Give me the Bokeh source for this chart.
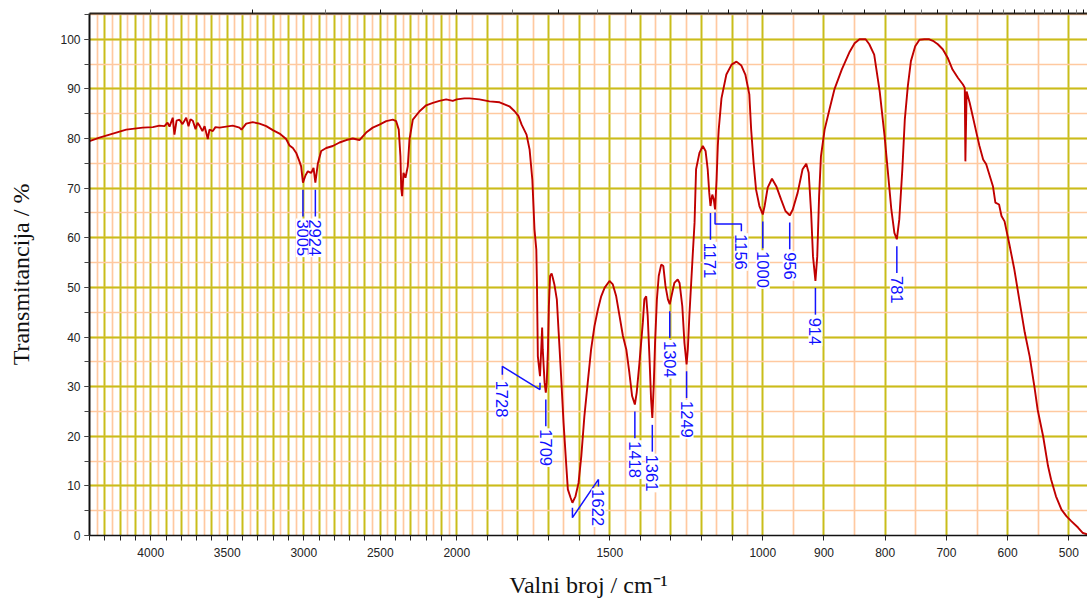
import math
from bokeh.plotting import figure
from bokeh.models import Range1d, FixedTicker, SingleIntervalTicker, LinearAxis, ColumnDataSource, Grid
from bokeh.embed import file_html
from bokeh.resources import INLINE
from bokeh.core.properties import value

# ---------------- data ----------------
wavenumber = [
    4400, 4335, 4269, 4160, 4052, 3986, 3943, 3910, 3890, 3877, 3856, 3845, 3831, 3812, 3792,
    3768, 3753, 3740, 3725, 3707, 3694, 3681, 3662, 3648, 3635, 3627, 3616, 3594, 3577, 3550,
    3507, 3464, 3420, 3407, 3376, 3333, 3289, 3245, 3202, 3158, 3115, 3093, 3071, 3049, 3028,
    3017, 3005, 2988, 2973, 2962, 2951, 2936, 2924, 2908, 2886, 2853, 2810, 2766, 2722, 2679,
    2636, 2592, 2549, 2505, 2461, 2418, 2396, 2379, 2368, 2363, 2357, 2348, 2335, 2320, 2309,
    2287, 2243, 2200, 2156, 2113, 2069, 2026, 2000, 1975, 1958, 1926, 1893, 1860, 1844, 1828,
    1811, 1798, 1788, 1772, 1762, 1753, 1746, 1740, 1738, 1735, 1728, 1724, 1721, 1719, 1713,
    1709, 1706, 1702, 1699, 1695, 1690, 1686, 1681, 1673, 1667, 1659, 1651, 1642, 1637, 1628,
    1622, 1612, 1602, 1593, 1583, 1572, 1561, 1550, 1539, 1528, 1517, 1501, 1490, 1479, 1468,
    1457, 1446, 1436, 1427, 1418, 1412, 1403, 1392, 1387, 1381, 1376, 1370, 1365, 1361, 1356,
    1352, 1346, 1340, 1332, 1325, 1318, 1310, 1304, 1296, 1289, 1278, 1272, 1263, 1256, 1249,
    1245, 1240, 1234, 1228, 1223, 1218, 1207, 1196, 1187, 1180, 1175, 1171, 1165, 1160, 1156,
    1151, 1147, 1144, 1135, 1119, 1102, 1086, 1070, 1057, 1044, 1038, 1030, 1022, 1011, 1000,
    997, 992, 985, 978, 970, 963, 956, 951, 943, 935, 929, 925, 921, 918, 914,
    911, 908, 905, 899, 891, 883, 871, 858, 850, 842, 832, 826, 818, 809, 801,
    796, 790, 785, 781, 777, 772, 768, 763, 758, 751, 744, 736, 728, 722, 714,
    706, 698, 690, 681, 673, 670, 669, 667, 662, 657, 651, 646, 640, 635, 630,
    624, 620, 614, 610, 605, 597, 589, 581, 572, 564, 556, 551, 542, 534, 529,
    521, 512, 504, 496, 485, 477, 469,
]
transmittance = [
    79.5, 80.2, 80.8, 81.8, 82.2, 82.3, 82.6, 82.5, 83.2, 82.4, 84.2, 80.8, 83.6, 83.8, 82.9,
    84.2, 82.5, 83.9, 83.6, 81.9, 83.2, 82.6, 81.5, 82.5, 80.9, 79.9, 81.8, 81.5, 82.3, 82.2,
    82.4, 82.6, 82.2, 81.8, 83.0, 83.3, 83.0, 82.5, 81.7, 81.0, 79.9, 78.6, 78.1, 77.1, 75.4,
    74.4, 71.1, 72.6, 73.4, 73.2, 73.1, 74.1, 71.1, 74.9, 77.5, 78.1, 78.5, 79.2, 79.7, 80.0,
    79.7, 81.2, 82.2, 82.8, 83.5, 83.8, 83.5, 81.8, 76.4, 70.1, 68.4, 73.1, 72.1, 74.4, 79.8,
    83.8, 85.5, 86.7, 87.2, 87.6, 87.9, 87.6, 87.9, 88.1, 88.1, 87.9, 87.5, 87.3, 86.9, 86.5,
    85.5, 84.5, 82.8, 80.8, 77.8, 71.7, 61.7, 57.6, 50.9, 36.1, 32.1, 37.5, 41.9, 37.5, 30.8,
    28.8, 30.8, 37.5, 46.2, 52.3, 52.8, 51.9, 50.6, 47.6, 40.9, 32.1, 22.7, 14.0, 9.3, 7.6,
    6.6, 7.9, 10.6, 16.0, 24.0, 30.8, 37.5, 42.2, 45.5, 48.2, 49.9, 51.3, 50.6, 48.2, 44.2,
    40.2, 37.5, 32.8, 28.1, 26.4, 28.8, 34.8, 42.9, 47.6, 48.2, 44.2, 35.5, 27.4, 23.7, 30.8,
    38.8, 47.6, 52.3, 54.6, 54.3, 50.3, 47.6, 46.6, 48.9, 50.9, 51.6, 50.9, 46.2, 38.8, 34.5,
    37.5, 44.2, 50.9, 57.6, 63.0, 73.8, 77.1, 78.5, 77.5, 73.8, 69.1, 66.4, 68.7, 67.7, 65.7,
    71.7, 78.5, 81.8, 88.1, 92.9, 94.9, 95.5, 94.7, 92.9, 88.9, 81.8, 75.1, 69.7, 66.4, 64.7,
    66.4, 70.1, 71.9, 70.4, 67.7, 65.4, 64.5, 65.7, 69.1, 73.8, 74.9, 73.1, 65.0, 56.3, 51.3,
    56.3, 68.4, 76.4, 81.8, 85.9, 89.9, 93.9, 97.5, 99.2, 100.0, 100.0, 99.0, 96.9, 89.5, 80.5,
    73.8, 65.7, 61.0, 59.7, 63.7, 73.8, 83.8, 90.6, 95.6, 98.6, 99.9, 100.0, 100.0, 99.7, 99.0,
    98.0, 96.3, 93.9, 92.2, 90.9, 90.2, 75.4, 89.5, 87.2, 84.5, 81.2, 78.5, 75.8, 74.8, 72.8,
    70.4, 67.1, 66.7, 64.4, 63.3, 58.6, 53.6, 47.6, 40.9, 36.1, 29.8, 25.4, 20.0, 14.0, 11.3,
    7.9, 5.2, 3.9, 2.9, 1.6, 0.5, 0.2,
]

peak_wn = [3005, 2924, 1728, 1709, 1622, 1418, 1361, 1304, 1249, 1171, 1156, 1000, 956, 914, 781]
peak_T = [71.1, 71.1, 32.1, 28.8, 6.6, 26.4, 23.7, 46.6, 34.5, 66.4, 65.7, 64.7, 64.5, 51.3, 59.7]

x_label_wn = [4000, 3500, 3000, 2500, 2000, 1500, 1000, 900, 800, 700, 600, 500]
y_tick_step = 10
top_major_um = list(range(3, 22))
top_minor_um = [2.5 + k for k in range(19)]

# ---------------- piecewise wavenumber scale (x1 / x2 / x4) ----------------
def u_of(wn):
    if wn >= 2000:
        return 4400 - wn
    if wn >= 1000:
        return 2400 + 2 * (2000 - wn)
    return 4400 + 4 * (1000 - wn)

U_MAX = u_of(469.5)

p = figure(width=1087, height=603, output_backend="svg", toolbar_location=None,
           x_range=Range1d(0, U_MAX), y_range=Range1d(0, 105.2),
           min_border_left=89, min_border_right=0, min_border_top=13, min_border_bottom=68,
           x_axis_type=None, y_axis_type=None)
p.outline_line_color = None
p.background_fill_color = "white"
p.border_fill_color = "white"

# bottom axis
xa = LinearAxis()
tick_wn = list(range(4400, 499, -100))
xa.ticker = FixedTicker(ticks=[u_of(w) for w in tick_wn], minor_ticks=[])
xa.major_label_overrides = {u_of(w): (str(w) if w in x_label_wn else "") for w in tick_wn}
xa.axis_label = "Valni broj / cm\u207b\u00b9"
xa.axis_label_text_font = "Liberation Serif"
xa.axis_label_text_font_size = "24px"
xa.axis_label_text_font_style = "normal"
xa.axis_label_text_color = "#111111"
xa.axis_label_standoff = 12
xa.major_label_text_font = "Liberation Sans"
xa.major_label_text_font_size = "12px"
xa.major_label_text_color = "#222222"
xa.major_label_standoff = 7
xa.major_tick_out = 5
xa.major_tick_in = 0
xa.major_tick_line_color = "#222222"
xa.axis_line_color = "#111111"
xa.axis_line_width = 1.5
p.add_layout(xa, "below")

# left axis
ya = LinearAxis()
ya.ticker = SingleIntervalTicker(interval=y_tick_step, num_minor_ticks=2)
ya.axis_label = "Transmitancija / %"
ya.axis_label_text_font = "Liberation Serif"
ya.axis_label_text_font_size = "24px"
ya.axis_label_text_font_style = "normal"
ya.axis_label_text_color = "#111111"
ya.axis_label_standoff = 23
ya.major_label_text_font = "Liberation Sans"
ya.major_label_text_font_size = "12px"
ya.major_label_text_color = "#222222"
ya.major_label_standoff = 4
ya.major_tick_out = 5
ya.major_tick_in = 0
ya.minor_tick_out = 5
ya.minor_tick_in = 0
ya.major_tick_line_color = "#222222"
ya.minor_tick_line_color = "#444444"
ya.axis_line_color = "#111111"
ya.axis_line_width = 2
p.add_layout(ya, "left")

# top axis: wavelength ticks (micrometres), no labels
ta = LinearAxis()
top_ticks = [u_of(1e4 / m) for m in top_major_um]
ta.ticker = FixedTicker(ticks=top_ticks, minor_ticks=[u_of(1e4 / m) for m in top_minor_um])
ta.major_label_overrides = {t: "" for t in top_ticks}
ta.major_label_text_font_size = "1px"
ta.major_label_standoff = 0
ta.major_tick_out = 4
ta.major_tick_in = 0
ta.minor_tick_out = 4
ta.minor_tick_in = 0
ta.major_tick_line_color = "#111111"
ta.minor_tick_line_color = "#777777"
ta.axis_line_color = "#2b241c"
ta.axis_line_width = 2.2
p.add_layout(ta, "above")

# grids
xg = Grid(dimension=0, ticker=FixedTicker(ticks=[u_of(w) for w in tick_wn],
                                          minor_ticks=[u_of(w) for w in range(4350, 449, -100)]))
xg.grid_line_color = "#C9BD1A"
xg.grid_line_width = 2
xg.minor_grid_line_color = "#FFC9A0"
xg.minor_grid_line_width = 1.7
p.add_layout(xg, "center")
yg = Grid(dimension=1, ticker=ya.ticker)
yg.grid_line_color = "#C9BD1A"
yg.grid_line_width = 2
yg.minor_grid_line_color = "#FFC9A0"
yg.minor_grid_line_width = 1.7
p.add_layout(yg, "center")

# spectrum
src = ColumnDataSource(dict(u=[u_of(w) for w in wavenumber], t=transmittance))
p.line("u", "t", source=src, line_color="#C00000", line_width=1.9)

# peak annotations
special = {
    # wn: (label wn, leader points as (at peak / at label, dT), text dT)
    1728: (1851, [(None, -1.3), (None, -2.7), ("L", 2.0), ("L", 0.3)], -0.7),
    1622: (1537, [(None, -1.0), (None, -3.0), ("L", 4.7), ("L", 3.3)], 2.9),
    1156: (1070, [(None, -0.6), (None, -2.9), ("L", -2.9), ("L", -4.4)], -4.8),
}
lx, ly, tx, ty, tt = [], [], [], [], []
for w, t in zip(peak_wn, peak_T):
    if w in special:
        lw, pts, tdt = special[w]
        lx.append([u_of(w) if a is None else u_of(lw) for a, _ in pts])
        ly.append([t + d for _, d in pts])
        tx.append(u_of(lw))
        ty.append(t + tdt)
    else:
        lx.append([u_of(w), u_of(w)])
        ly.append([t - 1.4, t - 6.8])
        tx.append(u_of(w))
        ty.append(t - 7.2)
    tt.append(str(w))

p.multi_line(lx, ly, line_color="#1414FF", line_width=1.5)
p.text(x=tx, y=ty, text=tt, angle=-math.pi / 2, text_align="left", text_baseline="middle",
       text_font=value("Liberation Sans"), text_font_size="16.5px", text_color="#1010FF",
       background_fill_color="white", padding=1)

open("out.html", "w").write(file_html(p, INLINE))
